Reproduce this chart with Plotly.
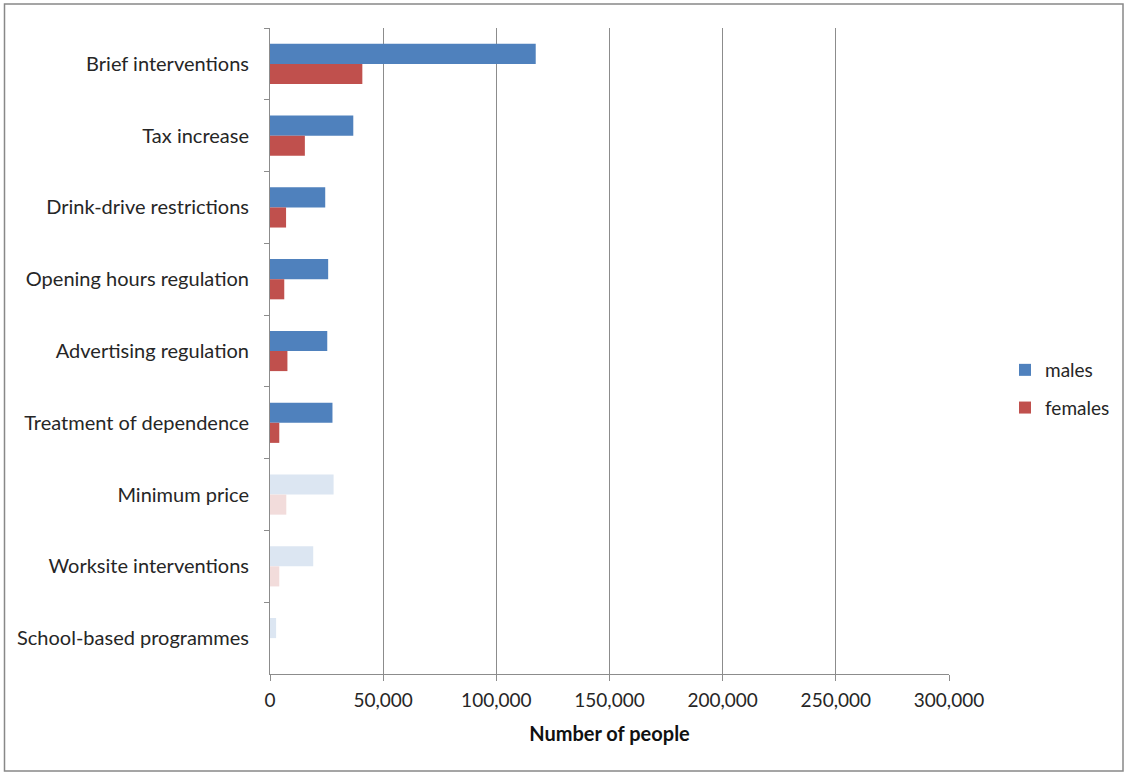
import plotly.graph_objects as go

categories = [
    "Brief interventions",
    "Tax increase",
    "Drink-drive restrictions",
    "Opening hours regulation",
    "Advertising regulation",
    "Treatment of dependence",
    "Minimum price",
    "Worksite interventions",
    "School-based programmes",
]
males = [117400, 36800, 24400, 25700, 25300, 27600, 28100, 19100, 2700]
females = [40800, 15400, 7100, 6300, 7700, 4100, 7200, 4100, 0]
faded = [False, False, False, False, False, False, True, True, True]

male_colors = ["#DCE6F2" if f else "#4F81BD" for f in faded]
female_colors = ["#F2DCDB" if f else "#C0504D" for f in faded]

W, H = 1125, 772
L, R, T, B = 270, 176, 28, 98
pw, ph = W - L - R, H - T - B

fig = go.Figure()
fig.add_trace(go.Bar(y=categories, x=males, orientation="h", name="males",
                     legendgroup="m",
                     marker=dict(color=male_colors, line=dict(width=0))))
fig.add_trace(go.Bar(y=categories, x=females, orientation="h", name="females",
                     legendgroup="f",
                     marker=dict(color=female_colors, line=dict(width=0))))

font = "Lato, 'Open Sans', sans-serif"
txt = "#262626"
fig.update_layout(
    width=W, height=H,
    margin=dict(l=L, r=R, t=T, b=B, pad=0, autoexpand=False),
    paper_bgcolor="white", plot_bgcolor="white",
    barmode="group", bargap=0.44, bargroupgap=0,
    font=dict(family=font, size=19, color=txt),
    showlegend=True,
    legend=dict(xref="container", yref="container", x=1005 / W, y=1 - 389 / H,
                xanchor="left", yanchor="middle",
                font=dict(size=19, color=txt), traceorder="grouped", tracegroupgap=10,
                bgcolor="rgba(0,0,0,0)", itemwidth=30),
    xaxis=dict(range=[0, 300000], dtick=50000, tickformat=",", showgrid=True,
               gridcolor="#8C8C8C", gridwidth=1, showline=True, linecolor="#8C8C8C",
               ticks="outside", ticklen=6, tickcolor="#8C8C8C", zeroline=False,
               tickfont=dict(size=19, color=txt), ticklabelstandoff=3,
               title=dict(text="<b>Number of people</b>", font=dict(size=20, color="#111111"),
                          standoff=17)),
    yaxis=dict(autorange="reversed", showline=True, linecolor="#8C8C8C",
               ticks="outside", ticklen=5, tickcolor="#8C8C8C", tickson="boundaries",
               showgrid=False, tickfont=dict(size=20, color=txt), ticklabelstandoff=16),
    shapes=[dict(type="rect", xref="paper", yref="paper",
                 x0=(4.5 - L) / pw, x1=(1123 - L) / pw,
                 y0=(T + ph - 771) / ph, y1=(T + ph - 4) / ph,
                 line=dict(color="#888888", width=1.5), fillcolor="rgba(0,0,0,0)", layer="below")],
)

fig.write_html("out.html", config={"displayModeBar": False},
               post_script="document.body.style.margin='0';document.body.style.overflow='hidden';")
